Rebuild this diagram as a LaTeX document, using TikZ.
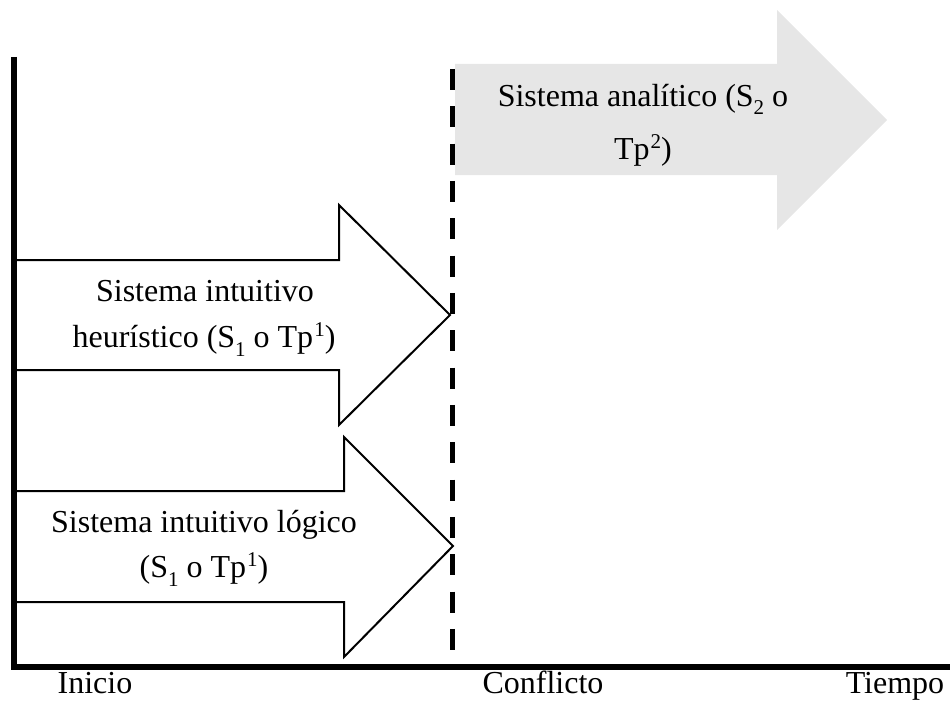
\documentclass[tikz,border=0pt]{standalone}
\usepackage{fontspec}
\setmainfont{Liberation Serif}
\definecolor{lightarrow}{RGB}{230,230,230}
\newcommand{\mysub}[1]{\raisebox{-9pt}{\fontsize{21}{21}\selectfont #1}}
\newcommand{\mysup}[1]{\kern1pt\raisebox{11pt}{\fontsize{21}{21}\selectfont #1}}
\begin{document}
\begin{tikzpicture}[x=1pt,y=-1pt,
  lbl/.style={anchor=base,inner sep=0pt,font=\fontsize{32}{38}\selectfont},
  whitearrow/.style={draw=black,fill=white,line width=2pt,miter limit=10},
  grayarrow/.style={fill=lightarrow,draw=none},
  axisline/.style={line width=5.5pt,line join=miter},
  conflictline/.style={line width=5pt,dash pattern=on 21pt off 16.33pt}]
\useasboundingbox (0,0) rectangle (950,701);
% gray arrow
\fill[grayarrow] (455,64) -- (777,64) -- (777,10) -- (887,120) -- (777,230) -- (777,175) -- (455,175) -- cycle;
% white arrows
\draw[whitearrow] (14,260) -- (339,260) -- (339,205) -- (450,315) -- (339,425) -- (339,370) -- (14,370);
\draw[whitearrow] (14,491) -- (344,491) -- (344,437) -- (453,546) -- (344,657) -- (344,602) -- (14,602);
% dashed conflict line
\coordinate (dtop) at (452.5,69);
\coordinate (dbot) at (452.5,652);
\draw[conflictline] (dtop) -- (dbot);
% axes
\coordinate (ytop) at (14,57);
\coordinate (origin) at (14,667);
\coordinate (xend) at (950,667);
\draw[axisline] (ytop) -- (origin) -- (xend);
% arrow labels
\node[lbl] (a1l1) at (205,301) {Sistema intuitivo};
\node[lbl] (a1l2) at (204,347) {heurístico (S\mysub{1} o Tp\mysup{1})};
\node[lbl] (a2l1) at (204,532) {Sistema intuitivo lógico};
\node[lbl] (a2l2) at (204,577) {(S\mysub{1} o Tp\mysup{1})};
\node[lbl] (g1) at (643,106) {Sistema analítico (S\mysub{2} o};
\node[lbl] (g2) at (643,159) {Tp\mysup{2})};
% axis labels
\node[lbl] (inicio) at (95,693) {Inicio};
\node[lbl] (conflicto) at (543,693) {Conflicto};
\node[lbl] (tiempo) at (895,693) {Tiempo};
\end{tikzpicture}
\end{document}
